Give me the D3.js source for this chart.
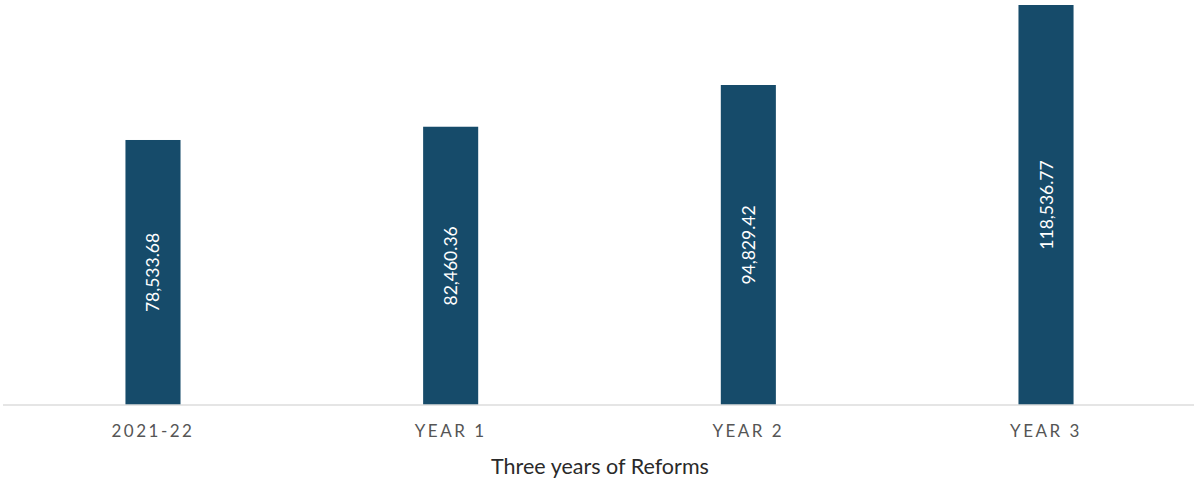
<!DOCTYPE html>
<html>
<head>
<meta charset="utf-8">
<script src="https://cdn.jsdelivr.net/npm/d3@7"></script>
<style>
  html, body { margin: 0; padding: 0; background: #fff; }
  svg { display: block; font-family: Lato, "Open Sans", sans-serif; }
</style>
</head>
<body>
<svg id="chart" width="1194" height="480"></svg>
<script>
const categories = ["2021-22", "YEAR 1", "YEAR 2", "YEAR 3"];
const values = [78533.68, 82460.36, 94829.42, 118536.77];
const axisTitle = "Three years of Reforms";

const svg = d3.select("#chart");
const margin = { left: 4, right: -1, top: 5, bottom: 75 };
const width = 1194, height = 480;
const baseline = height - margin.bottom;

const x = d3.scaleBand()
  .domain(categories)
  .range([margin.left, width - margin.right])
  .paddingInner(0.815)
  .paddingOuter(0.408);

const y = d3.scaleLinear()
  .domain([0, d3.max(values)])
  .range([baseline, margin.top]);

const fmt = d3.format(",.2f");
const data = categories.map((c, i) => ({ c, v: values[i] }));

svg.selectAll("rect.bar")
  .data(data)
  .join("rect")
  .attr("class", "bar")
  .attr("x", d => x(d.c))
  .attr("y", d => y(d.v))
  .attr("width", x.bandwidth())
  .attr("height", d => baseline - y(d.v))
  .attr("fill", "#164b6a");

svg.selectAll("text.val")
  .data(data)
  .join("text")
  .attr("class", "val")
  .attr("transform", d => `translate(${x(d.c) + x.bandwidth() / 2},${(y(d.v) + baseline) / 2}) rotate(-90)`)
  .attr("text-anchor", "middle")
  .attr("dominant-baseline", "central")
  .attr("fill", "#fff")
  .attr("font-size", 17.5)
  .text(d => fmt(d.v));

const axis = svg.append("g")
  .attr("transform", `translate(0,${baseline})`)
  .call(d3.axisBottom(x).tickSize(0).tickPadding(20));
axis.select(".domain").attr("stroke", "#dcdcdc").attr("stroke-width", 1.5)
  .attr("d", `M3,0H${width}`);
axis.selectAll(".tick text")
  .attr("font-family", "Lato, sans-serif")
  .attr("font-size", 17)
  .attr("fill", "#555")
  .attr("letter-spacing", "2.5px");

svg.append("text")
  .attr("x", 600)
  .attr("y", 474)
  .attr("text-anchor", "middle")
  .attr("font-size", 21.5)
  .attr("fill", "#2a2a2a")
  .text(axisTitle);
</script>
</body>
</html>
